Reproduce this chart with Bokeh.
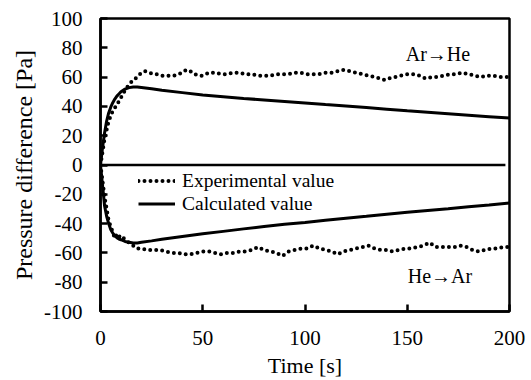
from bokeh.plotting import figure
from bokeh.models import Range1d, FixedTicker, Legend, LegendItem, Label
from bokeh.embed import file_html
from bokeh.resources import INLINE

# Experimental pressure difference, Ar -> He switch (time [s], pressure [Pa])
exp_up_t = [0, 2, 4, 6, 8, 10, 12, 14, 16, 18, 20, 22, 24, 26, 28, 30, 33, 36, 38, 40,
            42, 44, 46, 48, 50, 53, 56, 59, 62, 65, 68, 71, 74, 77, 80, 83, 86, 89, 92,
            95, 98, 101, 104, 107, 110, 113, 116, 119, 122, 125, 128, 131, 134, 137,
            139, 141, 144, 147, 150, 153, 156, 159, 162, 165, 168, 171, 174, 177, 180,
            183, 186, 189, 192, 195, 198, 200]
exp_up_p = [0, 18, 30, 37, 41, 46, 51, 55, 58, 60, 63, 64, 63, 62, 62, 61, 61, 61, 62, 63,
            65, 64, 62, 61, 61, 63, 63, 62, 62, 63, 63, 62, 62, 61, 61, 61, 62, 62, 62,
            63, 63, 62, 62, 62, 63, 63, 64, 65, 64, 63, 62, 61, 60, 59,
            58, 59, 60, 61, 62, 62, 61, 59, 60, 60, 61, 62, 62, 63, 62,
            61, 60, 61, 61, 60, 60, 60]

# Experimental pressure difference, He -> Ar switch
exp_dn_t = [0, 2, 4, 6, 7, 8, 9, 10, 12, 14, 16, 18, 20, 23, 26, 29, 32, 35, 38, 41, 44,
            47, 50, 53, 56, 59, 62, 65, 68, 71, 74, 77, 80, 83, 86, 89, 92, 95, 98, 101,
            104, 107, 110, 113, 116, 119, 122, 125, 128, 131, 134, 137, 140, 143, 146,
            149, 152, 155, 158, 161, 164, 167, 170, 173, 176, 179, 182, 185, 188, 191,
            194, 197, 200]
exp_dn_p = [0, -22, -38, -46, -50, -47, -49, -48, -51, -53, -55, -57, -57, -58, -58, -58,
            -59, -60, -60, -61, -61, -60, -59, -59, -60, -61, -60, -60, -59, -59, -58,
            -56, -58, -59, -60, -62, -59, -58, -57, -57, -55, -57, -58, -59, -61, -59,
            -58, -57, -56, -55, -57, -58, -58, -59, -58, -57, -57, -56, -55, -53, -56,
            -56, -56, -56, -55, -56, -58, -59, -58, -57, -57, -56, -56]

# Calculated pressure difference
calc_t = [0, 1, 2, 3, 4, 5, 6, 7, 8, 9, 10, 12, 14, 16, 18, 20, 25, 30, 40, 50, 60, 70,
          80, 90, 100, 110, 120, 130, 140, 150, 160, 170, 180, 190, 200]
calc_up_p = [0, 12, 22, 30, 35.5, 39.5, 42.5, 45, 47, 48.5, 50, 51.8, 52.8, 53.3, 53.2,
             52.9, 52, 51, 49.4, 47.8, 46.6, 45.4, 44.4, 43.4, 42.4, 41.3, 40.3, 39.2,
             38.1, 37, 36, 35, 34, 33, 32]
calc_dn_p = [0, -14, -28, -35, -40, -44, -46.5, -48.3, -49.6, -50.5, -51, -52.2, -52.8,
             -53.2, -53.2, -52.8, -51.8, -50.7, -48.8, -47, -45.3, -43.6, -42, -40.5,
             -39.2, -37.7, -36.3, -35, -33.6, -32.3, -31, -29.8, -28.5, -27.3, -26]

zero_t = [0, 198]
zero_p = [0, 0]

x_ticks = [0, 50, 100, 150, 200]
y_ticks = [-100, -80, -60, -40, -20, 0, 20, 40, 60, 80, 100]

SERIF = "Liberation Serif"

p = figure(width=531, height=380, output_backend="svg", toolbar_location=None,
           x_range=Range1d(0, 200), y_range=Range1d(-100, 100),
           min_border_left=100, min_border_right=22, min_border_top=18,
           min_border_bottom=67)
p.background_fill_color = "white"
p.border_fill_color = "white"
p.grid.visible = False
p.outline_line_color = "black"
p.outline_line_width = 2.5

p.axis.axis_line_width = 2.5
p.axis.major_tick_line_width = 2.5
p.axis.major_tick_in = 7
p.axis.major_tick_out = 0
p.axis.minor_tick_line_color = None
p.axis.major_label_text_font = SERIF
p.axis.major_label_text_font_size = "21px"
p.axis.major_label_text_color = "black"
p.axis.axis_label_text_font = SERIF
p.axis.axis_label_text_font_style = "normal"
p.axis.axis_label_text_color = "black"
p.yaxis.axis_label_text_font_size = "24px"
p.xaxis.axis_label_text_font_size = "22px"

p.xaxis.ticker = FixedTicker(ticks=x_ticks)
p.yaxis.ticker = FixedTicker(ticks=y_ticks)
p.xaxis.major_label_overrides = {t: str(t) for t in x_ticks}
p.yaxis.major_label_overrides = {t: str(t) for t in y_ticks}
p.xaxis.axis_label = "Time [s]"
p.yaxis.axis_label = "Pressure difference [Pa]"
p.xaxis.major_label_standoff = 19
p.yaxis.major_label_standoff = 18
p.xaxis.axis_label_standoff = 5
p.yaxis.axis_label_standoff = 4

p.line(zero_t, zero_p, line_color="black", line_width=2.5)

dot_kw = dict(line_color="black", line_width=4, line_dash="0 6", line_cap="round")
e1 = p.line(exp_up_t, exp_up_p, **dot_kw)
p.line(exp_dn_t, exp_dn_p, **dot_kw)

c1 = p.line(calc_t, calc_up_p, line_color="black", line_width=3)
p.line(calc_t, calc_dn_p, line_color="black", line_width=3)

legend = Legend(items=[LegendItem(label="Experimental value", renderers=[e1]),
                       LegendItem(label="Calculated value", renderers=[c1])],
                location=(38, 96), orientation="vertical",
                label_text_font=SERIF, label_text_font_size="19.5px",
                label_text_color="black", glyph_width=37, glyph_height=23,
                label_height=23, label_standoff=7, spacing=0, padding=0,
                margin=0, border_line_color=None, background_fill_alpha=0)
p.add_layout(legend, "center")

p.add_layout(Label(x=165, y=76, text="Ar→He", text_font=SERIF, text_font_size="20px",
                   text_align="center", text_baseline="middle", text_color="black"))
p.add_layout(Label(x=166, y=-76, text="He→Ar", text_font=SERIF, text_font_size="20px",
                   text_align="center", text_baseline="middle", text_color="black"))

open("out.html", "w").write(file_html(p, INLINE))
